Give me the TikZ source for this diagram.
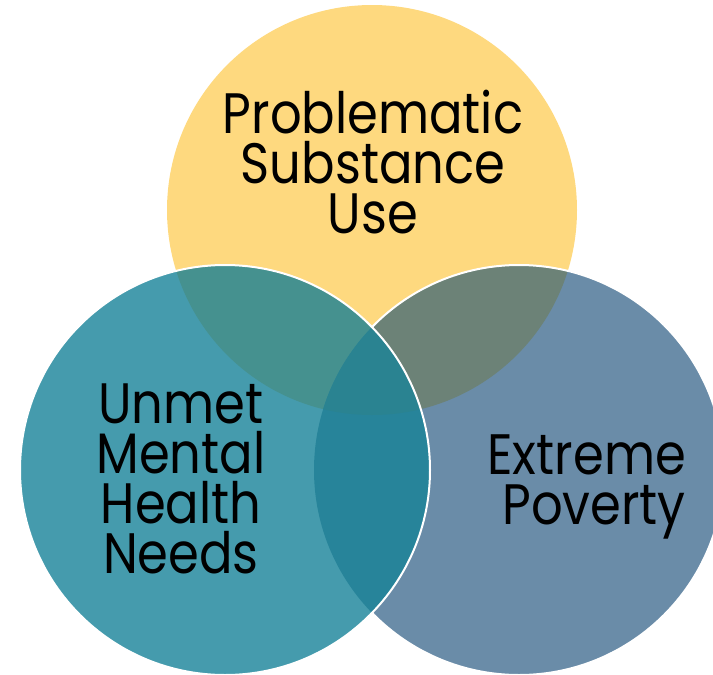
\documentclass[tikz,border=0pt]{standalone}
\usepackage{fontspec}
\setmainfont{Poppins}
\definecolor{cY}{HTML}{FED97F}
\definecolor{cT}{HTML}{459BAD}
\definecolor{cB}{HTML}{6A8CA8}
\definecolor{cTY}{HTML}{45918F}
\definecolor{cYB}{HTML}{6C8277}
\definecolor{cTB}{HTML}{27849A}
\definecolor{cTYB}{HTML}{2A8391}
\begin{document}
\begin{tikzpicture}[x=1pt,y=-1pt,
  lbl/.style={font=\fontsize{57}{50}\selectfont, inner sep=0pt, anchor=base, xscale=0.87, text=black, align=center},
  lblr/.style={lbl, anchor=base east, align=right},
  rim/.style={draw=white, line width=2pt}]
\useasboundingbox (0,0) rectangle (713,675);
\clip (0,0) rectangle (713,675);
\coordinate (cy) at (372,210);
\coordinate (ct) at (225,470);
\coordinate (cb) at (519,470);
% yellow
\fill[cY] (cy) circle[radius=205pt];
% blue and its overlap with yellow
\fill[cB] (cb) circle[radius=205pt];
\begin{scope}
  \clip (cb) circle[radius=205pt];
  \fill[cYB] (cy) circle[radius=205pt];
\end{scope}
\draw[rim] (cb) circle[radius=205pt];
% teal and its overlaps
\fill[cT] (ct) circle[radius=205pt];
\begin{scope}
  \clip (ct) circle[radius=205pt];
  \fill[cTY] (cy) circle[radius=205pt];
  \fill[cTB] (cb) circle[radius=205pt];
  \clip (cb) circle[radius=205pt];
  \fill[cTYB] (cy) circle[radius=205pt];
\end{scope}
\draw[rim] (ct) circle[radius=205pt];
% labels (base anchor = baseline of the last line)
\node[lbl] (psu) at (373,233) {Problematic\\Substance\\Use};
\node[lbl] (umh) at (181,573) {Unmet\\Mental\\Health\\Needs};
\node[lblr] (ep) at (686,524) {Extreme\\Poverty};
\end{tikzpicture}
\end{document}
